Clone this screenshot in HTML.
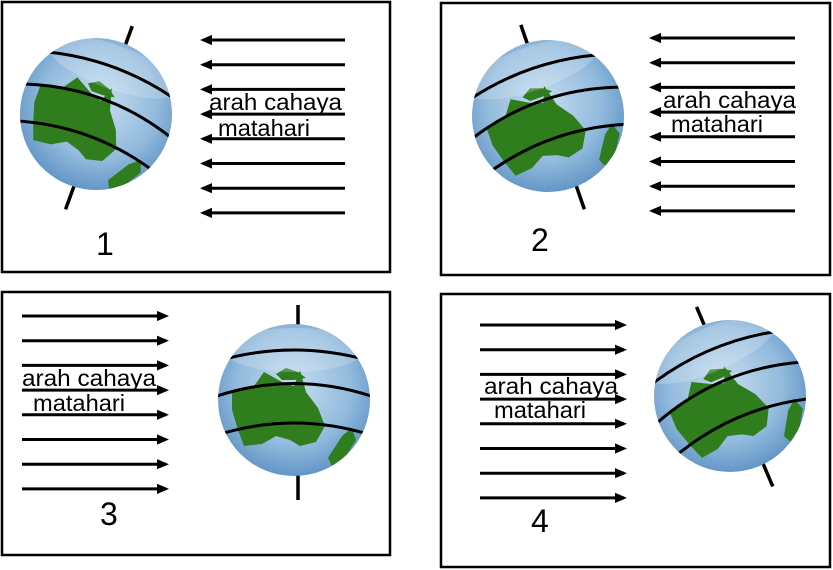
<!DOCTYPE html>
<html><head><meta charset="utf-8"><style>
html,body{margin:0;padding:0;background:#fff;}
svg{display:block;}
text{font-family:"Liberation Sans",sans-serif;fill:#000;}
</style></head><body>
<svg id="s" width="833" height="570" viewBox="0 0 833 570">
<defs>
<radialGradient id="g" cx="0.5" cy="0.42" r="0.62">
<stop offset="0" stop-color="#c6ddef"/><stop offset="0.6" stop-color="#93bbdd"/><stop offset="1" stop-color="#5a8fc2"/>
</radialGradient>
<clipPath id="c"><circle cx="0" cy="0" r="76"/></clipPath>
<marker id="ah" markerWidth="4" markerHeight="4" refX="3" refY="2" orient="auto" markerUnits="strokeWidth"><path d="M0,0.3 L4,2 L0,3.7 z" fill="#000"/></marker>
</defs>
<rect x="2" y="2" width="388" height="270" fill="none" stroke="#000" stroke-width="2.5"/>
<rect x="441" y="3" width="389" height="272" fill="none" stroke="#000" stroke-width="2.5"/>
<rect x="2" y="292" width="388" height="263" fill="none" stroke="#000" stroke-width="2.5"/>
<rect x="441" y="294" width="389" height="273" fill="none" stroke="#000" stroke-width="2.5"/>
<g id="arrows"></g><g id="globes"></g>
<text x="209" y="110" font-size="23" textLength="133" lengthAdjust="spacingAndGlyphs">arah cahaya</text>
<text x="218" y="136" font-size="23" textLength="92" lengthAdjust="spacingAndGlyphs">matahari</text>
<text x="96" y="255" font-size="32">1</text>
<text x="663" y="108" font-size="23" textLength="133" lengthAdjust="spacingAndGlyphs">arah cahaya</text>
<text x="671" y="132" font-size="23" textLength="92" lengthAdjust="spacingAndGlyphs">matahari</text>
<text x="531" y="251" font-size="32">2</text>
<text x="22" y="386" font-size="23" textLength="134" lengthAdjust="spacingAndGlyphs">arah cahaya</text>
<text x="33" y="411" font-size="23" textLength="92" lengthAdjust="spacingAndGlyphs">matahari</text>
<text x="100" y="525" font-size="32">3</text>
<text x="484" y="394" font-size="23" textLength="134" lengthAdjust="spacingAndGlyphs">arah cahaya</text>
<text x="494" y="418" font-size="23" textLength="92" lengthAdjust="spacingAndGlyphs">matahari</text>
<text x="531" y="532" font-size="32">4</text>
</svg>
<script>
const NS="http://www.w3.org/2000/svg";
const arrowSets=[[345,203,40],[795,652,38],[22,166,316],[480,624,325]];
const arrowGap=24.7;
const globeCenters=[[96,114,20],[548,116,-19],[294,400,0],[730,396,-23]];
const A=document.getElementById('arrows'),G=document.getElementById('globes');
arrowSets.forEach((a,p)=>{
  for(let i=0;i<8;i++){
    const l=document.createElementNS(NS,'line');
    const y=a[2]+i*arrowGap;
    l.setAttribute('x1',a[0]);l.setAttribute('x2',a[1]);l.setAttribute('y1',y);l.setAttribute('y2',y);
    l.setAttribute('stroke','#000');l.setAttribute('stroke-width','3');l.setAttribute('marker-end','url(#ah)');
    
    
    A.appendChild(l);
  }
});
globeCenters.forEach((c)=>{
  const g=document.createElementNS(NS,'g');
  g.setAttribute('transform',`translate(${c[0]},${c[1]}) rotate(${c[2]})`);
  
  
  g.innerHTML=`
  <line x1="4" y1="-95" x2="4" y2="100" stroke="#000" stroke-width="3.5"/>
  <circle r="76" fill="url(#g)"/>
  <g clip-path="url(#c)">
   <path d="M-62,-8 L-40,-14 L-30,-28 L-12,-18 L0,-14 L6,-30 L12,-8 L24,8 L31,26 L22,42 L6,46 L-4,40 L-18,36 L-32,44 L-50,46 L-56,30 L-62,10 z" fill="#2f7d1d"/>
   <path d="M-18,-26 L-8,-32 L4,-28 L12,-22 L0,-20 L-12,-20 z" fill="#2f7d1d"/>
   <path d="M48,36 L58,28 L62,40 L52,56 L38,66 L34,58 z" fill="#2f7d1d"/>
   <ellipse cx="0" cy="-50" rx="70" ry="22" fill="#fff" opacity="0.2"/>
   <path d="M-80,-38 Q0,-62 80,-38" fill="none" stroke="#000" stroke-width="3"/>
   <path d="M-80,-3 Q0,-30 80,-3" fill="none" stroke="#000" stroke-width="3"/>
   <path d="M-80,36 Q0,10 80,36" fill="none" stroke="#000" stroke-width="3"/>
  </g>`;
  G.appendChild(g);
});
</script>
</body></html>
